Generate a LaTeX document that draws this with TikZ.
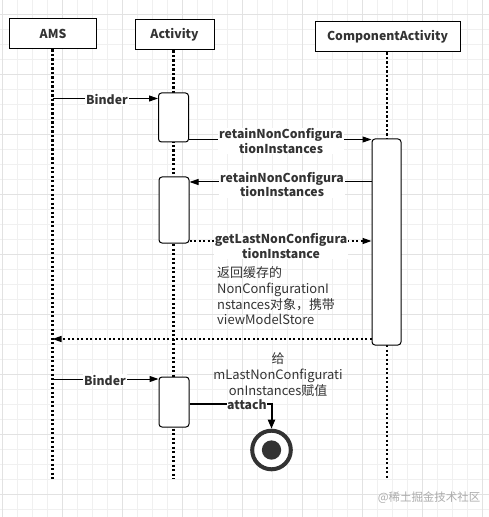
\documentclass[tikz,border=0pt]{standalone}
\usepackage{fontspec}
\setmainfont{Noto Sans CJK SC}
\usetikzlibrary{arrows.meta}
\definecolor{txt}{HTML}{333333}
\definecolor{gminor}{HTML}{F0F0F0}
\definecolor{gmajor}{HTML}{E2E2E2}
\begin{document}
\begin{tikzpicture}[x=1bp,y=-1bp,
  every node/.style={inner sep=0pt,text=txt},
  actor/.style={draw=black, line width=1bp, minimum height=30bp, fill=white,
    font=\bfseries\fontsize{12.3}{14}\selectfont},
  life/.style={line width=2.2bp, dash pattern=on 2.2bp off 2.3bp},
  actbox/.style={draw=black, fill=white, rounded corners=3bp, line width=1bp, minimum width=30bp},
  msg/.style={line width=1bp, -{Triangle[length=9bp,width=6bp]}},
  dmsg/.style={line width=1.5bp, dash pattern=on 2bp off 2.5bp, -{Triangle[length=9bp,width=6bp]}},
  lbl/.style={fill=white, inner sep=1bp, align=center, font=\bfseries\fontsize{12.3}{14.5}\selectfont},
  note/.style={inner sep=0pt, font=\fontsize{13}{16}\selectfont}
]
\useasboundingbox (0,0) rectangle (489,517);
\fill[white] (0,0) rectangle (489,517);
% grid
\foreach \x in {2,17,...,489} \draw[gminor, line width=0.8bp] (\x,0) -- (\x,517);
\foreach \y in {14,29,...,517} \draw[gminor, line width=0.8bp] (0,\y) -- (489,\y);
\foreach \x in {2,62,...,489} \draw[gmajor, line width=0.8bp] (\x,0) -- (\x,517);
\foreach \y in {14,74,...,517} \draw[gmajor, line width=0.8bp] (0,\y) -- (489,\y);

% actors
\node[actor, minimum width=86bp] (ams) at (53,34) {AMS};
\node[actor, minimum width=79bp] (act) at (174.5,35) {Activity};
\node[actor, minimum width=145bp] (comp) at (387.5,37) {ComponentActivity};

% lifelines
\coordinate (amsEnd) at (52.5,479);
\coordinate (actEnd) at (173.5,479);
\coordinate (compEnd) at (387,478);
\draw[life] (ams.south -| amsEnd) -- (amsEnd);
\draw[life] (act.south -| actEnd) -- (actEnd);
\draw[life] (comp.south -| compEnd) -- (compEnd);

% activations
\node[actbox, minimum height=49bp] (act1) at (173.5,117.5) {};
\node[actbox, minimum height=66bp] (act2) at (174,210) {};
\node[actbox, minimum width=29bp, minimum height=206bp] (compA) at (386.5,242) {};
\node[actbox, minimum height=50bp] (act3) at (174,402) {};

% Binder 1
\coordinate (b1) at (52.5,98.5);
\draw[msg] (b1) -- (b1 -| act1.west);
\node[lbl] (lb1) at (107,99.5) {Binder};

% retain 1
\coordinate (r1) at (280,139.5);
\draw[msg] (r1 -| act1.east) -- (r1 -| compA.west);
\node[lbl] (lr1) at (281,141) {retainNonConfigura\\tionInstances};

% retain 2
\coordinate (r2) at (280,182);
\draw[msg] (r2 -| compA.west) -- (r2 -| act2.east);
\node[lbl] (lr2) at (282,184.5) {retainNonConfigura\\tionInstances};

% getLast
\coordinate (g1) at (280,241);
\draw[dmsg] (g1 -| act2.east) -- (g1 -| compA.west);
\node[lbl] (lg1) at (281,246) {getLastNonConfigura\\tionInstance};

% return
\coordinate (ret) at (200,339);
\draw[dmsg] (ret -| compA.west) -- (ret -| amsEnd);
\node[note, anchor=north west, align=left] (n1) at (217,266) {返回缓存的\\NonConfigurationI\\nstances对象，携带\\viewModelStore};

% Binder 2
\coordinate (b2) at (52.5,379);
\draw[msg] (b2) -- (b2 -| act3.west);
\node[lbl] (lb2) at (105,380) {Binder};

% note 2
\node[note, align=center] (n2) at (278,374.5) {给\\mLastNonConfigurati\\onInstances赋值};

% final state
\node[circle, draw=txt, line width=4bp, minimum size=38.6bp, fill=white] (final) at (271.5,450) {};
\node[circle, fill=txt, minimum size=19.3bp] (finalIn) at (final) {};

% attach
\coordinate (at) at (230,404);
\draw[line width=2bp, -{Triangle[length=9bp,width=7bp]}] (at -| act3.east) -| (final.north);
\node[lbl, inner sep=0.5bp] (lat) at (247,405) {attach};

% watermark
\node[text=black!32, font=\fontsize{11.5}{13}\selectfont] (wm) at (429,498) {@稀土掘金技术社区};
\end{tikzpicture}
\end{document}
